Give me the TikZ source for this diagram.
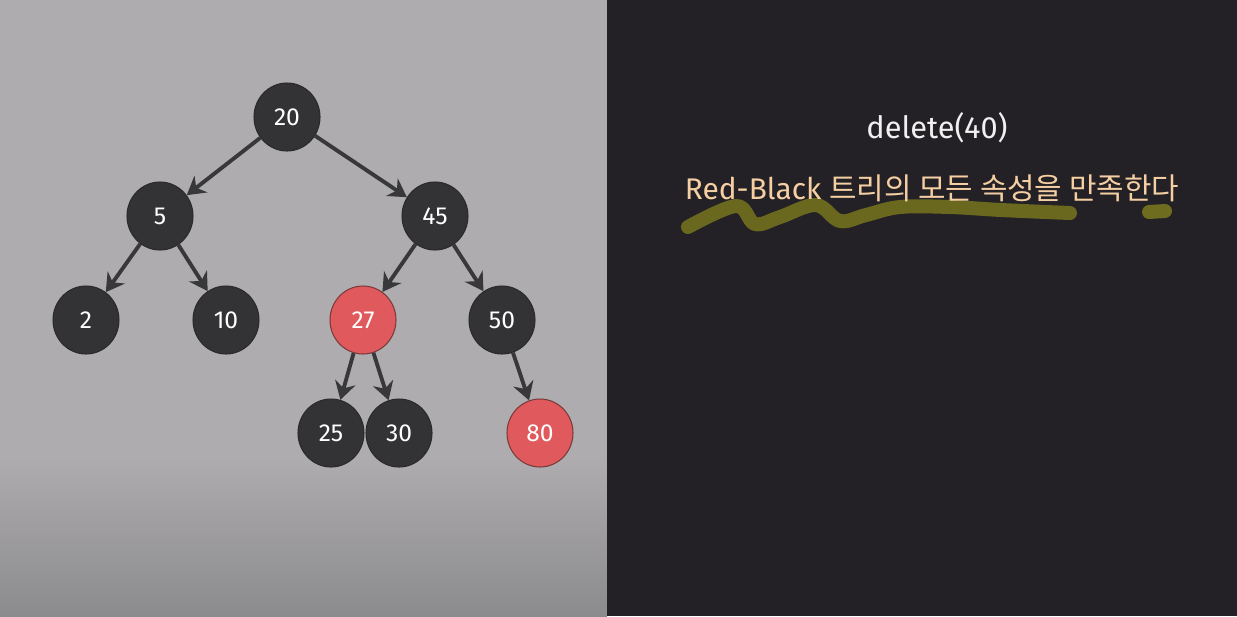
\documentclass[tikz,border=0pt]{standalone}
\usepackage{fontspec}
\setmainfont{Fira Sans}
\newfontfamily\kr{Noto Sans CJK KR}
\usetikzlibrary{arrows.meta,shapes.geometric}
\definecolor{panelgray}{HTML}{AEACAF}
\definecolor{panelshade}{HTML}{8B8A8C}
\definecolor{paneldark}{HTML}{232125}
\definecolor{nodeblack}{HTML}{333235}
\definecolor{nodeedge}{HTML}{2A292B}
\definecolor{nodered}{HTML}{E05A5D}
\definecolor{rededge}{HTML}{7A3A3A}
\definecolor{linkgray}{HTML}{38373A}
\definecolor{peach}{HTML}{F5CFA3}
\definecolor{marker}{HTML}{6E6C1E}
\tikzset{
  rbnode/.style={ellipse, minimum width=1.32cm, minimum height=1.36cm, inner sep=0pt,
    text=white, font=\fontsize{14}{16}\selectfont},
  blacknode/.style={rbnode, fill=nodeblack, draw=nodeedge, line width=0.6pt},
  rednode/.style={rbnode, fill=nodered, draw=rededge, line width=0.6pt},
  link/.style={-{Stealth[length=0.36cm,width=0.42cm,inset=0.12cm]}, line width=2.2pt, draw=linkgray}
}
\begin{document}
\begin{tikzpicture}[x=0.02cm,y=-0.02cm]
    \useasboundingbox (0,0) rectangle (1237,616);

    % panels
    \fill[panelgray] (0,0) rectangle (607,460);
    \shade[top color=panelgray, bottom color=panelshade] (0,459) rectangle (607,616);
    \fill[paneldark] (607,0) rectangle (1237,616);

    % tree
    \node[blacknode] (n20) at (287,117) {20};
    \node[blacknode] (n5)  at (160,216) {5};
    \node[blacknode] (n45) at (435,216) {45};
    \node[blacknode] (n2)  at (86,320)  {2};
    \node[blacknode] (n10) at (226,320) {10};
    \node[rednode]   (n27) at (363,320) {27};
    \node[blacknode] (n50) at (502,320) {50};
    \node[blacknode] (n25) at (331,433) {25};
    \node[blacknode] (n30) at (399,433) {30};
    \node[rednode]   (n80) at (540,433) {80};
    \foreach \a/\b in {n20/n5, n20/n45, n5/n2, n5/n10, n45/n27, n45/n50,
                       n27/n25, n27/n30, n50/n80} {
        \draw[link] (\a) -- (\b);
    }

    % right panel
    \draw[marker, line width=0.28cm, line cap=round, line join=round, opacity=0.95]
        plot[smooth, tension=0.6] coordinates {(688,227) (736,206) (755,224) (780,217)
        (816,205) (840,221) (866,215) (900,207) (950,207) (1001,210) (1070,213)};
    \draw[marker, line width=0.28cm, line cap=round] (1149,212) -- (1165,211);
    \node[text=white!94!black, font=\fontsize{17.5}{20}\selectfont] (title) at (937,128) {delete(40)};
    \node[text=peach, font=\fontsize{17}{20}\selectfont] (claim) at (932,188)
        {Red-Black {\kr 트리의 모든 속성을 만족한다}};
\end{tikzpicture}
\end{document}
